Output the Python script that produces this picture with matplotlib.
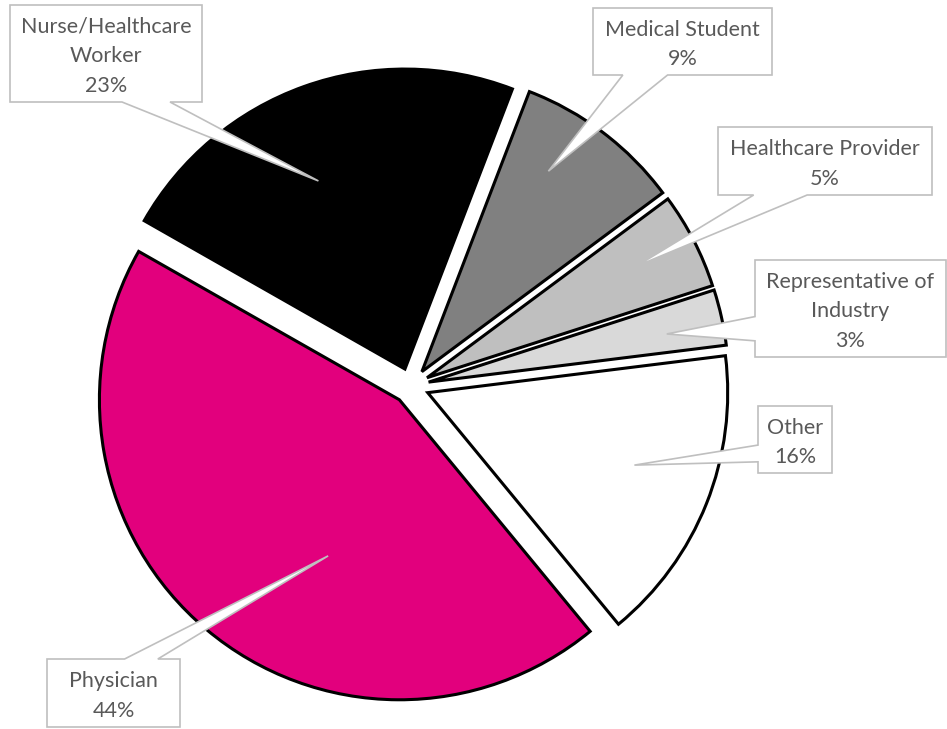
import numpy as np
import matplotlib
matplotlib.use("Agg")
import matplotlib.pyplot as plt
from matplotlib.patches import Polygon

# data (shares, labels show them rounded)
categories = ["Medical Student", "Healthcare Provider", "Representative of\nIndustry",
              "Other", "Physician", "Nurse/Healthcare\nWorker"]
shares = [9.0, 5.2, 3.0, 16.0, 44.2, 22.6]
colors = ["#808080", "#BFBFBF", "#D9D9D9", "#FFFFFF", "#E2007D", "#000000"]

# label layout (pixels, y from top): box left, top, right, bottom
boxes = [(593, 8, 772, 75), (718, 127, 932, 195), (755, 260, 946, 357),
         (758, 406, 832, 473), (47, 659, 180, 727), (10, 5, 202, 102)]
sides = ["bottom", "bottom", "left", "left", "top", "bottom"]
# leader tip: angle clockwise from 12 o'clock, fraction of radius
tip_angle = [32.6, 62.0, 78.5, 109.5, 206.0, 335.7]
tip_frac = [0.85, 0.85, 0.87, 0.79, 0.63, 0.75]

W, H = 947, 729
CX, CY, R = 411, 386, 300   # pie centre and radius in pixels


def to_data(x, y):
    return (x - CX) / R, (CY - y) / R


fig = plt.figure(figsize=(W / 100, H / 100), dpi=100)
ax = fig.add_axes([0, 0, 1, 1])

wedges, _ = ax.pie(shares, colors=colors, startangle=69, counterclock=False,
                   explode=[0.06] * len(shares), radius=1,
                   wedgeprops=dict(edgecolor="black", linewidth=2.2, joinstyle="miter"))

ax.set_xlim(-CX / R, (W - CX) / R)
ax.set_ylim(-(H - CY) / R, CY / R)
ax.axis("off")


def callout(box, side, tip):
    l, t, r, b = box
    tx, ty = tip
    if side in ("bottom", "top"):
        lo, hi = (7 / 12, 10 / 12) if tx > (l + r) / 2 else (2 / 12, 5 / 12)
        b1, b2 = l + lo * (r - l), l + hi * (r - l)
        if side == "bottom":
            pts = [(l, t), (r, t), (r, b), (b2, b), (tx, ty), (b1, b), (l, b)]
        else:
            pts = [(l, t), (b1, t), (tx, ty), (b2, t), (r, t), (r, b), (l, b)]
    else:
        lo, hi = (7 / 12, 10 / 12) if ty > (t + b) / 2 else (2 / 12, 5 / 12)
        b1, b2 = t + lo * (b - t), t + hi * (b - t)
        pts = [(l, t), (r, t), (r, b), (l, b), (l, b2), (tx, ty), (l, b1)]
    return [to_data(x, y) for x, y in pts]


for cat, val, box, side, ang, frac in zip(categories, shares, boxes, sides, tip_angle, tip_frac):
    a = np.radians(ang)
    tip = (CX + frac * R * np.sin(a), CY - frac * R * np.cos(a))
    poly = Polygon(callout(box, side, tip), closed=True, facecolor="white",
                   edgecolor="#BFBFBF", linewidth=1.2, zorder=5)
    ax.add_patch(poly)
    l, t, r, b = box
    xc, yc = to_data((l + r) / 2, (t + b) / 2 + 3)
    ax.text(xc, yc, f"{cat}\n{val:.0f}%", ha="center", va="center", fontsize=15.5,
            family="Lato", color="#595959", linespacing=1.6, zorder=6)

fig.savefig("out.png", dpi=100)
